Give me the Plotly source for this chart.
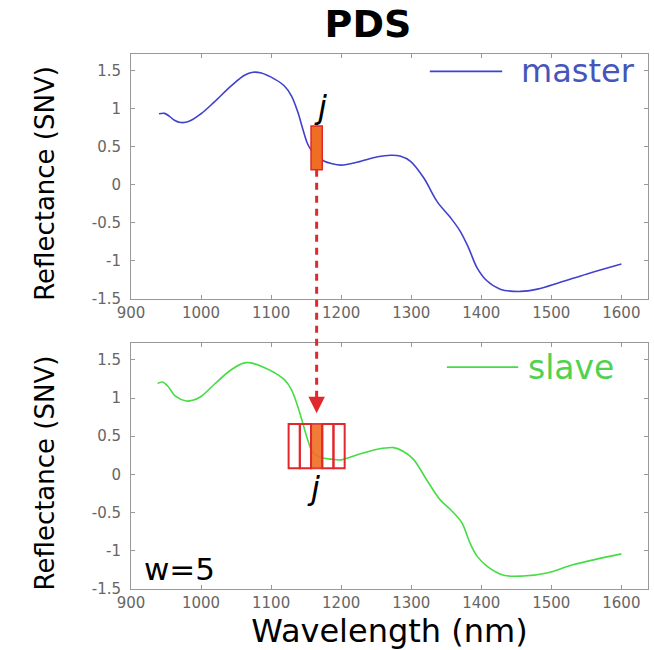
import plotly.graph_objects as go

# ---- data ----
master_wl = [940, 948, 955, 962, 971, 983, 1000, 1019, 1043, 1062, 1074, 1086, 1105, 1119, 1129, 1138,
             1145, 1152, 1157, 1165, 1176, 1186, 1200, 1224, 1252, 1271, 1284, 1299, 1318, 1337,
             1356, 1370, 1382, 1394, 1408, 1427, 1456, 1480, 1513, 1551, 1600]
master_val = [0.935, 0.94, 0.90, 0.85, 0.82, 0.835, 0.935, 1.09, 1.30, 1.44, 1.48, 1.47, 1.39, 1.30, 1.17, 0.96,
              0.74, 0.54, 0.46, 0.38, 0.31, 0.28, 0.26, 0.30, 0.37, 0.39, 0.38, 0.31, 0.09, -0.22,
              -0.43, -0.61, -0.83, -1.09, -1.26, -1.37, -1.40, -1.37, -1.28, -1.17, -1.04]
slave_wl = [938, 945, 952, 964, 979, 988, 1000, 1019, 1043, 1062, 1071, 1090, 1105, 1119, 1129, 1138,
            1145, 1152, 1160, 1171, 1186, 1200, 1224, 1252, 1275, 1289, 1303, 1322, 1341, 1356,
            1372, 1384, 1394, 1408, 1432, 1460, 1494, 1532, 1600]
slave_val = [1.19, 1.21, 1.16, 1.02, 0.96, 0.97, 1.02, 1.18, 1.37, 1.46, 1.46, 1.40, 1.33, 1.24, 1.11, 0.89,
             0.68, 0.46, 0.28, 0.22, 0.20, 0.19, 0.26, 0.33, 0.35, 0.30, 0.20, -0.07, -0.33, -0.46,
             -0.63, -0.90, -1.07, -1.20, -1.32, -1.33, -1.29, -1.18, -1.04]

j_center = 1165
cell_width = 16
window_centers = [1133, 1149, 1165, 1181, 1197]
master_box = [0.20, 0.775]
slave_box = [0.08, 0.66]
arrow_tip = 0.80

x_ticks = [900, 1000, 1100, 1200, 1300, 1400, 1500, 1600]
y_ticks = [-1.5, -1, -0.5, 0, 0.5, 1, 1.5]
y_tick_text = ["-1.5", "-1", "-0.5", "0", "0.5", "1", "1.5"]

x_range = [900, 1638]
y_range = [-1.5, 1.72]

BLUE = "rgb(65,65,205)"
BLUE_TXT = "rgb(70,85,185)"
GREEN = "rgb(70,220,70)"
GREEN_TXT = "rgb(80,210,80)"
RED = "rgb(225,40,45)"
ORANGE = "rgb(240,110,35)"
FONT = "DejaVu Sans"

top_dom = [0.542, 1.0]
bot_dom = [0.0, 0.4598]

fig = go.Figure()
fig.add_trace(go.Scatter(x=master_wl, y=master_val, mode="lines",
                         line=dict(color=BLUE, width=1.6, shape="spline", smoothing=1.0),
                         xaxis="x", yaxis="y", showlegend=False))
fig.add_trace(go.Scatter(x=slave_wl, y=slave_val, mode="lines",
                         line=dict(color=GREEN, width=1.6, shape="spline", smoothing=1.0),
                         xaxis="x2", yaxis="y2", showlegend=False))

tickfont = dict(size=15, color="#666", family=FONT)
axis_common = dict(range=x_range, tickvals=x_ticks, ticks="inside", ticklen=4, tickcolor="#999",
                   showline=True, linecolor="#999", linewidth=1, mirror="ticks", showgrid=False, zeroline=False,
                   tickfont=tickfont)
yaxis_common = dict(range=y_range, tickvals=y_ticks, ticktext=y_tick_text, ticks="inside", ticklen=4, tickcolor="#999",
                    showline=True, linecolor="#999", linewidth=1, mirror="ticks", showgrid=False, zeroline=False,
                    tickfont=tickfont, ticklabelstandoff=6)

fig.update_layout(
    width=654, height=650,
    margin=dict(l=131, r=6, t=54, b=61),
    plot_bgcolor="white", paper_bgcolor="white",
    font=dict(family=FONT, color="black"),
    title=dict(text="<b>PDS</b>", x=368/654, xanchor="center", y=1-24/650, yanchor="middle",
               font=dict(size=38, family=FONT, color="black")),
    xaxis=dict(domain=[0, 1], anchor="y", **axis_common),
    yaxis=dict(domain=top_dom, anchor="x", **yaxis_common),
    xaxis2=dict(domain=[0, 1], anchor="y2", title=dict(text="Wavelength (nm)", font=dict(size=32, family=FONT), standoff=10),
                **axis_common),
    yaxis2=dict(domain=bot_dom, anchor="x2", **yaxis_common),
)

def to_paper(val, dom):
    return dom[0] + (val - y_range[0]) / (y_range[1] - y_range[0]) * (dom[1] - dom[0])

shapes = []
# dashed connector
shapes.append(dict(type="line", xref="x", yref="paper", x0=j_center, x1=j_center,
                   y0=to_paper(master_box[0], top_dom), y1=to_paper(arrow_tip + 0.06, bot_dom),
                   line=dict(color=RED, width=3, dash="7px,6px")))
# master box
shapes.append(dict(type="rect", xref="x", yref="y", x0=j_center - cell_width/2, x1=j_center + cell_width/2,
                   y0=master_box[0], y1=master_box[1], fillcolor=ORANGE, line=dict(color=RED, width=1.5)))
# slave window cells
for c in window_centers:
    shapes.append(dict(type="rect", xref="x2", yref="y2", x0=c - cell_width/2, x1=c + cell_width/2,
                       y0=slave_box[0], y1=slave_box[1],
                       fillcolor=ORANGE if c == j_center else "rgba(0,0,0,0)",
                       opacity=0.9 if c == j_center else 1,
                       line=dict(color=RED, width=2)))
# legend lines
shapes.append(dict(type="line", xref="x domain", yref="y domain", x0=0.578, x1=0.718, y0=0.929, y1=0.929,
                   line=dict(color=BLUE, width=1.6)))
shapes.append(dict(type="line", xref="x2 domain", yref="y2 domain", x0=0.611, x1=0.749, y0=0.902, y1=0.902,
                   line=dict(color=GREEN, width=1.6)))
fig.update_layout(shapes=shapes)

annotations = [
    dict(text="master", xref="x domain", yref="y domain", x=0.750, y=0.929, xanchor="left", yanchor="middle",
         showarrow=False, font=dict(size=32, color=BLUE_TXT, family=FONT)),
    dict(text="slave", xref="x2 domain", yref="y2 domain", x=0.764, y=0.902, xanchor="left", yanchor="middle",
         showarrow=False, font=dict(size=33, color=GREEN_TXT, family=FONT)),
    dict(text="w=5", xref="x2 domain", yref="y2 domain", x=0.022, y=0.081, xanchor="left", yanchor="middle",
         showarrow=False, font=dict(size=31, color="black", family=FONT)),
    dict(text="<i>j</i>", xref="x", yref="y", x=1170, y=1.02, xanchor="center", yanchor="middle",
         showarrow=False, font=dict(size=32, color="black", family=FONT)),
    dict(text="<i>j</i>", xref="x2", yref="y2", x=1161, y=-0.175, xanchor="center", yanchor="middle",
         showarrow=False, font=dict(size=32, color="black", family=FONT)),
    dict(text="Reflectance (SNV)", xref="paper", yref="y domain", x=(45-131)/517, y=0.47, xanchor="center",
         yanchor="middle", textangle=-90, showarrow=False, font=dict(size=26, color="black", family=FONT)),
    dict(text="Reflectance (SNV)", xref="paper", yref="y2 domain", x=(45-131)/517, y=0.47, xanchor="center",
         yanchor="middle", textangle=-90, showarrow=False, font=dict(size=26, color="black", family=FONT)),
    # arrowhead
    dict(text="", xref="x2", yref="y2", x=j_center, y=arrow_tip, ax=0, ay=-14, showarrow=True,
         arrowhead=2, arrowsize=1.1, arrowwidth=3, arrowcolor=RED),
]
fig.update_layout(annotations=annotations)

fig.write_html("out.html")
